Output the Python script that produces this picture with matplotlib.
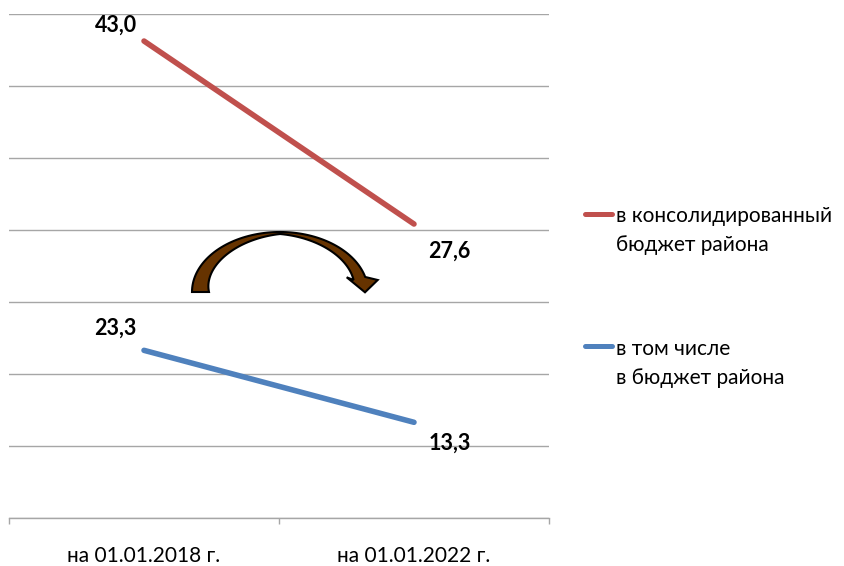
import numpy as np
import matplotlib
matplotlib.use('Agg')
import matplotlib.pyplot as plt
from matplotlib.patches import Polygon
from matplotlib.lines import Line2D

plt.rcParams['font.family'] = ['Lato', 'DejaVu Sans']

# данные
categories = ['на 01.01.2018 г.', 'на 01.01.2022 г.']
consolidated = [43.0, 27.6]   # в консолидированный бюджет района
district = [23.3, 13.3]       # в том числе в бюджет района
consolidated_labels = ['43,0', '27,6']
district_labels = ['23,3', '13,3']
legend_labels = ['в консолидированный\nбюджет района', 'в том числе\nв бюджет района']

RED = '#C0504D'
BLUE = '#4F81BD'
GRID = '#A6A6A6'

W, H = 844, 566
fig = plt.figure(figsize=(W / 100, H / 100), dpi=100)
ax = fig.add_axes([9 / W, (H - 518) / H, 540 / W, 503.7 / H])
ax2 = ax.twinx()

x = np.arange(len(categories))

# основная ось: синяя линия
ax.plot(x, district, color=BLUE, lw=4, solid_capstyle='round', zorder=3)
ax.set_xlim(-0.5, 1.5)
ax.set_ylim(0, 70)
ax.set_yticks(np.arange(0, 71, 10))
ax.yaxis.grid(True, color=GRID, lw=1)
ax.set_axisbelow(True)
ax.tick_params(axis='y', left=False, labelleft=False)
for s in ['left', 'right', 'top']:
    ax.spines[s].set_visible(False)
ax.spines['bottom'].set_color(GRID)
ax.spines['bottom'].set_linewidth(1)

ax.set_xticks(x)
ax.set_xticklabels(categories, fontsize=15, color='black')
ax.tick_params(axis='x', which='major', length=0, pad=20)
ax.set_xticks([-0.5, 0.5, 1.5], minor=True)
ax.tick_params(axis='x', which='minor', length=4.5, color=GRID, width=1)

# вторичная ось: красная линия
ax2.plot(x, consolidated, color=RED, lw=4, solid_capstyle='round', zorder=3)
ax2.set_ylim(2.86, 45.25)
ax2.set_yticks([])
for s in ax2.spines.values():
    s.set_visible(False)

# подписи данных
for xi, v, lab, dx, dy in zip(x, consolidated, consolidated_labels, [-20.4, 25.5], [6.7, -24.3]):
    ax2.annotate(lab, (xi, v), xytext=(dx, dy), textcoords='offset points',
                 ha='center', va='baseline', fontsize=15.5, fontweight='bold')
for xi, v, lab, dx, dy in zip(x, district, district_labels, [-20.4, 25.5], [11.5, -19.7]):
    ax.annotate(lab, (xi, v), xytext=(dx, dy), textcoords='offset points',
                ha='center', va='baseline', fontsize=15.5, fontweight='bold')

# изогнутая стрелка (в пикселях)
cx, cy, rx, ry = 280, 292, 88, 60
th = np.linspace(180, 14.5, 80)
thick = np.where(th > 90, 2 + 15 * (th - 90) / 90, 2 + 10 * (90 - th) / 75.5)
rad = np.radians(th)
outer = np.column_stack([cx + rx * np.cos(rad), cy - ry * np.sin(rad)])
inner = np.column_stack([cx + (rx - thick) * np.cos(rad), cy - (ry - thick) * np.sin(rad)])
head = np.array([[377.7, 280.0], [365.0, 292.3], [346.7, 277.3]])
pts = np.vstack([outer, head, inner[::-1]])
pts_fig = np.column_stack([pts[:, 0] / W, 1 - pts[:, 1] / H])
fig.add_artist(Polygon(pts_fig, closed=True, transform=fig.transFigure,
                       facecolor='#663300', edgecolor='black', lw=1.5, joinstyle='miter'))

# легенда
for col, lab, ly, by in zip([RED, BLUE], legend_labels, [214, 346], [221.5, 355]):
    fig.add_artist(Line2D([585 / W, 612 / W], [1 - ly / H, 1 - ly / H], color=col,
                          lw=3.6, solid_capstyle='round', transform=fig.transFigure))
    for i, part in enumerate(lab.split('\n')):
        fig.text(616 / W, 1 - (by + 29.5 * i) / H, part, fontsize=15,
                 ha='left', va='baseline')

fig.savefig('out.png', dpi=100)
